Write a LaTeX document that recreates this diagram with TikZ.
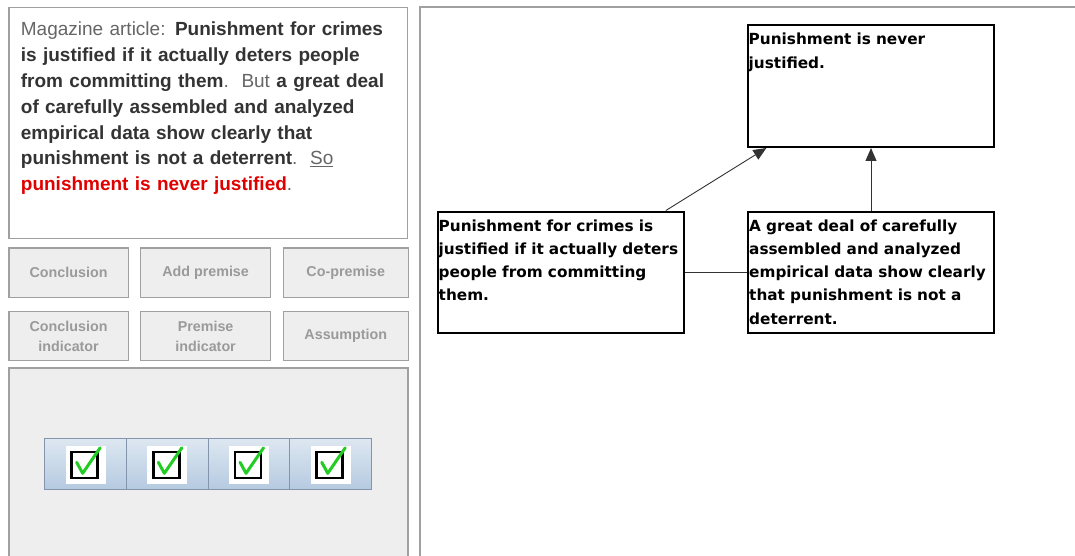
\documentclass[tikz,border=0pt]{standalone}
\usepackage{fontspec}
\setmainfont{Liberation Sans}
\newfontfamily\djv{DejaVu Sans}
\usetikzlibrary{arrows.meta,calc}
\definecolor{panelborder}{HTML}{A0A0A0}
\definecolor{panelfill}{HTML}{EEEEEE}
\definecolor{btntext}{HTML}{9A9A9A}
\definecolor{regtext}{HTML}{666666}
\definecolor{boldtext}{HTML}{333333}
\definecolor{redtext}{HTML}{E00000}
\definecolor{tbtop}{HTML}{DDE7F1}
\definecolor{tbblue}{HTML}{B5CAE0}
\definecolor{tbborder}{HTML}{8494AC}
\definecolor{checkgreen}{HTML}{22CC22}
\definecolor{arrowgray}{HTML}{333333}
\tikzset{
  panel/.style={draw=panelborder, line width=1.3pt},
  btn/.style={draw=panelborder, fill=panelfill, line width=1.2pt, anchor=north west,
    inner sep=0pt, font=\fontsize{14.3}{20}\selectfont\bfseries, text=btntext, align=center},
  argbox/.style={draw=black, line width=2pt, anchor=north west, inner sep=0pt, fill=white},
  argtext/.style={anchor=base west, inner sep=0pt, text width=300pt, align=left,
    font=\fontsize{15.3}{23.3}\selectfont\djv\bfseries},
  link/.style={draw=arrowgray, line width=0.9pt},
  arr/.style={link, -{Triangle[length=13pt,width=11pt]}},
  tbbtn/.style={draw=tbborder, line width=1pt, anchor=north west, inner sep=0pt,
    minimum width=81.7pt, minimum height=51pt, top color=tbtop, middle color=white, bottom color=tbblue},
  whitesq/.style={fill=white, inner sep=0pt, minimum width=40pt, minimum height=38pt},
  chkbox/.style={draw=black, line width=2.6pt, inner sep=0pt, minimum size=26pt},
  check/.style={draw=checkgreen, line width=3pt, line cap=round, line join=round},
}
\begin{document}
\begin{tikzpicture}[x=1pt,y=-1pt]
\useasboundingbox (0,0) rectangle (1075,556);
\clip (0,0) rectangle (1075,556);
\fill[white] (0,0) rectangle (1075,556);

% left text panel
\node[panel, fill=white, anchor=north west, inner sep=0pt, minimum width=398.2pt, minimum height=231pt] (tbox) at (8.3,7) {};
\node[anchor=base west, inner sep=0pt, text width=400pt, align=left, text=boldtext,
      font=\fontsize{19}{25.8}\selectfont] (article) at (20.7,36) {%
{\color{regtext}Magazine article:} \textbf{Punishment for crimes}\\
\textbf{is justified if it actually deters people}\\
\textbf{from committing them}{\color{regtext}.\ \ But} \textbf{a great deal}\\
\textbf{of carefully assembled and analyzed}\\
\textbf{empirical data show clearly that}\\
\textbf{punishment is not a deterrent}{\color{regtext}.\ \ \underline{So}}\\
{\color{redtext}\textbf{punishment is never justified}}{\color{regtext}.}};

% buttons
\node[btn, minimum width=119.4pt, minimum height=49.4pt] (bconc) at (8.3,247.3) {Conclusion};
\node[btn, minimum width=130pt, minimum height=49.4pt] (badd) at (140,247.3) {Add premise};
\node[btn, minimum width=125pt, minimum height=49.4pt] (bco) at (282.7,247.3) {Co-premise};
\node[btn, minimum width=119.4pt, minimum height=49.3pt] (bci) at (8.3,310.7) {Conclusion\\indicator};
\node[btn, minimum width=130pt, minimum height=49.3pt] (bpi) at (140,310.7) {Premise\\indicator};
\node[btn, minimum width=125pt, minimum height=49.3pt] (bas) at (282.7,310.7) {Assumption};

% bottom panel
\node[panel, fill=panelfill, anchor=north west, inner sep=0pt, minimum width=399pt, minimum height=200pt] (bpanel) at (8.3,367.3) {};

% toolbar
\foreach \i in {1,...,4} {
  \node[tbbtn] (tb\i) at ({44.3+81.7*(\i-1)},438.3) {};
  \node[whitesq] (ws\i) at ($(tb\i.center)+(0,1)$) {};
  \node[chkbox] (cb\i) at ($(tb\i.center)+(-1,0.5)$) {};
  \draw[check] ($(cb\i.center)+(-8,-2.5)$) -- ($(cb\i.center)+(-2,8.5)$) -- ($(cb\i.center)+(15.5,-17)$);
}

% right panel border
\draw[panel] (420,560) -- (420,7) -- (1080,7);

% argument diagram
\node[argbox, minimum width=246.5pt, minimum height=122pt] (c) at (746.5,24) {};
\node[argbox, minimum width=246.5pt, minimum height=121.5pt] (p1) at (436.5,210.5) {};
\node[argbox, minimum width=246pt, minimum height=121.5pt] (p2) at (747,210.5) {};

\node[argtext] (ct) at (748.5,45) {Punishment is never\\justified.};
\node[argtext] (p1t) at (438.5,231) {Punishment for crimes is\\justified if it actually deters\\people from committing\\them.};
\node[argtext] (p2t) at (749,231) {A great deal of carefully\\assembled and analyzed\\empirical data show clearly\\that punishment is not a\\deterrent.};

\draw[arr] ($(p1.north west)!0.923!(p1.north east)$) -- ($(c.south west)!0.08!(c.south east)$);
\draw[arr] (p2.north) -- (p2.north |- c.south);
\draw[link] (p1.east) -- (p2.west);
\end{tikzpicture}
\end{document}
